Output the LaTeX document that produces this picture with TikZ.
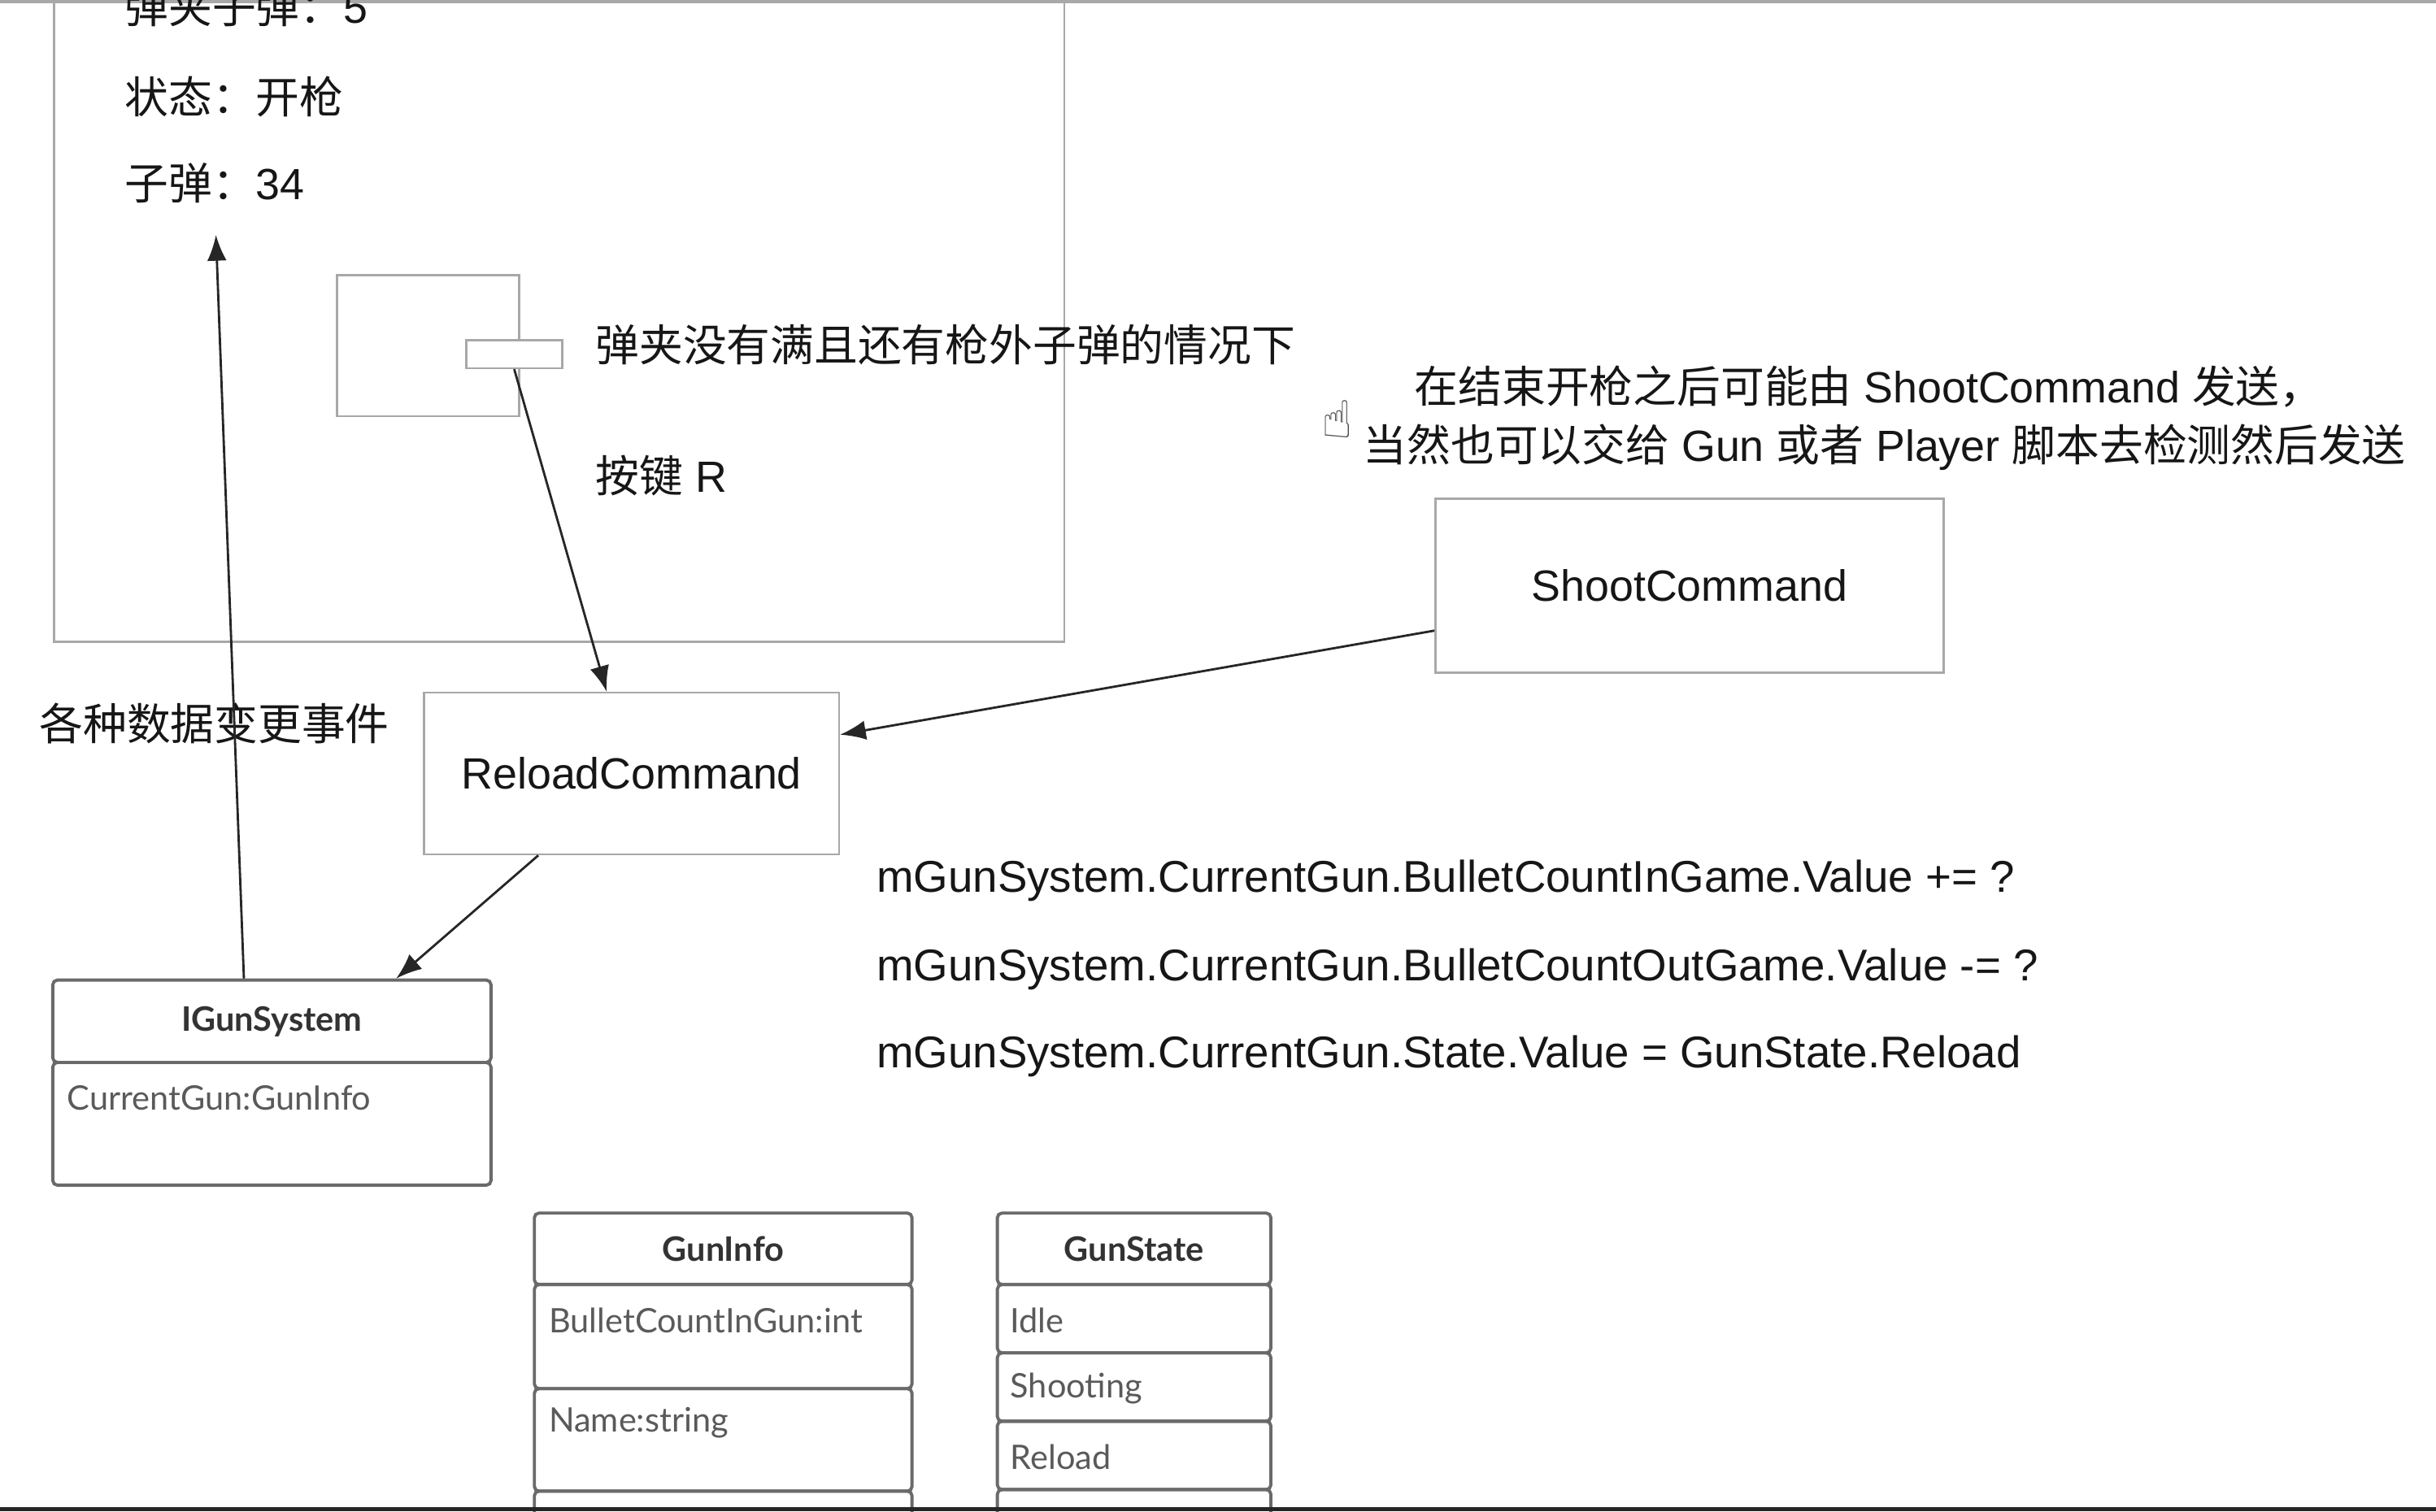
\documentclass[tikz,border=0pt]{standalone}
\usepackage{fontspec}
\setmainfont{Liberation Sans}
\newfontfamily\cjk{Noto Sans CJK SC}
\newfontfamily\umlf{Lato}
\newfontfamily\symf{DejaVu Sans}
\usetikzlibrary{arrows.meta,calc}
\definecolor{boxgray}{HTML}{A8A8A8}
\definecolor{umlgray}{HTML}{6A6A6A}
\definecolor{txt}{HTML}{161616}
\definecolor{attrc}{HTML}{5A5A5A}
\def\U{0.54365pt}
\newcommand\bigtxt{\fontsize{15.3}{18}\selectfont}
\newcommand\codetxt{\fontsize{15.55}{18}\selectfont}
\newcommand\umltxt{\fontsize{11.8}{14}\selectfont\umlf}
\tikzset{
  gbox/.style={draw=boxgray, line width=0.75pt, inner sep=0pt},
  cmdbox/.style={gbox, font=\bigtxt, text=txt},
  lbl/.style={anchor=west, inner sep=0pt, font=\bigtxt, text=txt},
  codelbl/.style={lbl, font=\codetxt},
  umlbox/.style={draw=umlgray, line width=1.1pt, rounded corners=1.6pt, inner sep=0pt, font=\umltxt\bfseries, text=black!80},
  attr/.style={anchor=west, inner sep=0pt, font=\umltxt, text=attrc},
  conn/.style={-{Latex[length=9pt,width=6.8pt]}, line width=0.8pt, draw=black!85},
}
\begin{document}
\begin{tikzpicture}[x=0.019107cm, y=-0.019107cm]
\useasboundingbox (0,0) rectangle (1568,973);
\clip (0,0) rectangle (1568,973);
\fill[white] (0,0) rectangle (1568,973);
\draw[boxgray, line width=0.9pt] (0,1) -- (1568,1);

% screen mock-up
\node[gbox, minimum width=650*\U, minimum height=420*\U] (screen) at (360,203) {};
\node[lbl] (mag) at (80,4) {{\cjk 弹夹子弹：}5};
\node[lbl] (state) at (80,62) {{\cjk 状态：开枪}};
\node[lbl] (ammo) at (80,118) {{\cjk 子弹：}34};

\node[gbox, minimum width=117*\U, minimum height=91*\U] (mini) at (275.5,222.5) {};
\node[gbox, fill=white, minimum width=62*\U, minimum height=18*\U] (slot) at (331,228) {};

\node[lbl] (cond) at (383,222) {{\cjk 弹夹没有满且还有枪外子弹的情况下}};
\node[lbl] (key) at (383,306) {{\cjk 按键} R};

% commands
\node[cmdbox, minimum width=267*\U, minimum height=104*\U] (rc) at (406.5,498) {ReloadCommand};
\node[cmdbox, minimum width=327*\U, minimum height=112*\U] (sc) at (1087.5,377) {ShootCommand};

\node[lbl] (events) at (25,466) {{\cjk 各种数据变更事件}};

\node[inner sep=0pt, font=\bigtxt, text=txt] (note1) at (1203,249) {{\cjk 在结束开枪之后可能由} ShootCommand {\cjk 发送，}};
\node[inner sep=0pt, font=\bigtxt, text=txt] (note2) at (1213,288) {{\cjk 当然也可以交给} Gun {\cjk 或者} Player {\cjk 脚本去检测然后发送}};

\node[inner sep=0pt, font=\symf\fontsize{18}{18}\selectfont, text=black!70] (cursor) at (861,270) {☝};

% code
\node[codelbl] (c1) at (564,567) {mGunSystem.CurrentGun.BulletCountInGame.Value += ?};
\node[codelbl] (c2) at (564,624) {mGunSystem.CurrentGun.BulletCountOutGame.Value -= ?};
\node[codelbl] (c3) at (564,680) {mGunSystem.CurrentGun.State.Value = GunState.Reload};

% IGunSystem
\node[umlbox, minimum width=282*\U, minimum height=53*\U] (igs) at (175,657.5) {IGunSystem};
\node[umlbox, minimum width=282*\U, minimum height=79*\U] (igsbody) at (175,723.5) {};
\node[attr] (igsa) at (43,707) {CurrentGun:GunInfo};

% GunInfo
\node[umlbox, minimum width=243*\U, minimum height=46*\U] (gi) at (465.5,804) {GunInfo};
\node[umlbox, minimum width=243*\U, minimum height=67*\U] (gi1) at (465.5,860.5) {};
\node[umlbox, minimum width=243*\U, minimum height=66*\U] (gi2) at (465.5,927) {};
\node[umlbox, minimum width=243*\U, minimum height=40*\U] (gi3) at (465.5,980) {};
\node[attr] (gia) at (353,850) {BulletCountInGun:int};
\node[attr] (gib) at (353,916) {Name:string};

% GunState
\node[umlbox, minimum width=176*\U, minimum height=46*\U] (gs) at (730,804) {GunState};
\node[umlbox, minimum width=176*\U, minimum height=44*\U] (gs1) at (730,849) {};
\node[umlbox, minimum width=176*\U, minimum height=44*\U] (gs2) at (730,893) {};
\node[umlbox, minimum width=176*\U, minimum height=44*\U] (gs3) at (730,937) {};
\node[umlbox, minimum width=176*\U, minimum height=41*\U] (gs4) at (730,979.5) {};
\node[attr] (gsa) at (650,850) {Idle};
\node[attr] (gsb) at (650,894) {Shooting};
\node[attr] (gsc) at (650,938) {Reload};

% connectors
\draw[conn, shorten >=20*\U] ([xshift=-18*\U]igs.north) -- (ammo.south);
\draw[conn] (slot.south) -- ([xshift=-16*\U]rc.north);
\draw[conn] ([yshift=-29*\U]sc.west) -- ([yshift=25*\U]rc.east);
\draw[conn] ([xshift=-60*\U]rc.south) -- ([xshift=80*\U]igs.north);

\fill[black!85] (0,970.5) rectangle (1568,973);
\end{tikzpicture}
\end{document}
